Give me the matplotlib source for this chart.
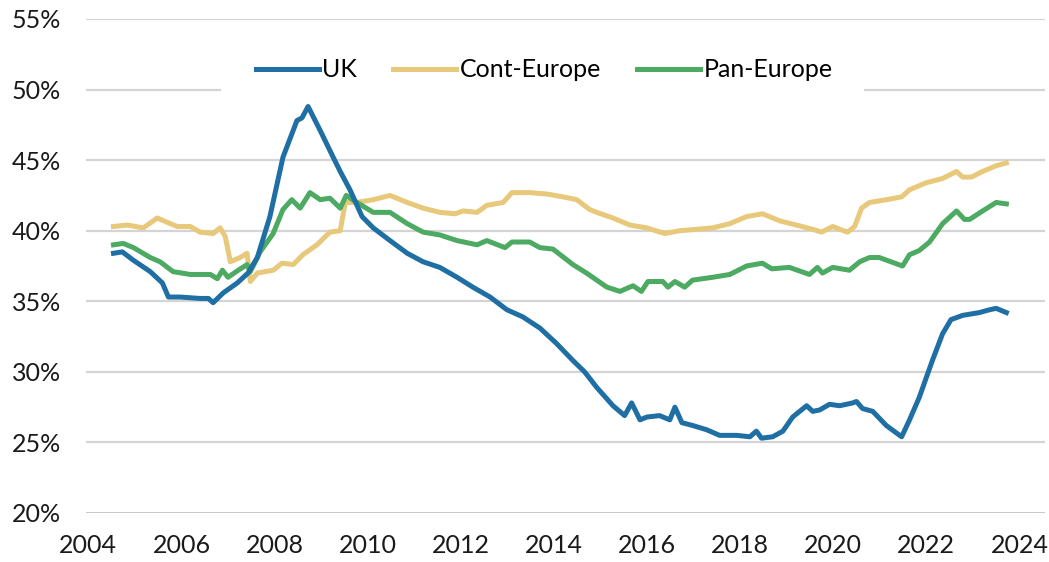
import matplotlib
matplotlib.use("Agg")
import matplotlib.pyplot as plt
from matplotlib.ticker import FuncFormatter

# ---- data (year, % share) ----
uk_year = [2004.54, 2004.73, 2004.97, 2005.33, 2005.59, 2005.72, 2005.97, 2006.40, 2006.58, 2006.68,
           2006.90, 2007.20, 2007.43, 2007.63, 2007.90, 2008.18, 2008.48, 2008.59, 2008.72, 2008.98,
           2009.26, 2009.41, 2009.62, 2009.88, 2010.12, 2010.48, 2010.85, 2011.19, 2011.55, 2011.92,
           2012.26, 2012.63, 2012.99, 2013.33, 2013.70, 2014.06, 2014.41, 2014.66, 2014.92, 2015.27,
           2015.52, 2015.67, 2015.85, 2016.00, 2016.27, 2016.49, 2016.60, 2016.75, 2016.98, 2017.28,
           2017.56, 2017.93, 2018.21, 2018.35, 2018.46, 2018.70, 2018.92, 2019.13, 2019.43, 2019.56,
           2019.71, 2019.92, 2020.14, 2020.42, 2020.50, 2020.63, 2020.85, 2021.14, 2021.47, 2021.64,
           2021.85, 2022.13, 2022.35, 2022.53, 2022.78, 2023.14, 2023.36, 2023.50, 2023.72]
uk_val = [38.4, 38.5, 37.9, 37.1, 36.3, 35.3, 35.3, 35.2, 35.2, 34.9,
          35.6, 36.3, 37.0, 38.1, 41.0, 45.2, 47.8, 48.0, 48.8, 47.1,
          45.2, 44.2, 42.9, 41.0, 40.2, 39.3, 38.4, 37.8, 37.4, 36.7,
          36.0, 35.3, 34.4, 33.9, 33.1, 32.0, 30.8, 30.0, 28.9, 27.6,
          26.9, 27.8, 26.6, 26.8, 26.9, 26.6, 27.5, 26.4, 26.2, 25.9,
          25.5, 25.5, 25.4, 25.8, 25.3, 25.4, 25.8, 26.8, 27.6, 27.2,
          27.3, 27.7, 27.6, 27.8, 27.9, 27.4, 27.2, 26.2, 25.4, 26.6,
          28.2, 30.8, 32.7, 33.7, 34.0, 34.2, 34.4, 34.5, 34.2]

cont_year = [2004.54, 2004.84, 2005.18, 2005.48, 2005.69, 2005.91, 2006.19, 2006.40, 2006.68, 2006.83,
             2006.94, 2007.05, 2007.26, 2007.41, 2007.48, 2007.63, 2007.97, 2008.16, 2008.40, 2008.61,
             2008.91, 2009.19, 2009.41, 2009.52, 2009.77, 2010.12, 2010.48, 2010.85, 2011.19, 2011.55,
             2011.88, 2012.05, 2012.35, 2012.56, 2012.91, 2013.10, 2013.48, 2013.85, 2014.19, 2014.49,
             2014.77, 2014.92, 2015.27, 2015.63, 2016.00, 2016.38, 2016.70, 2017.07, 2017.41, 2017.78,
             2018.14, 2018.48, 2018.85, 2019.21, 2019.56, 2019.75, 2019.99, 2020.14, 2020.31, 2020.46,
             2020.61, 2020.78, 2021.15, 2021.47, 2021.64, 2022.00, 2022.35, 2022.65, 2022.78, 2022.97,
             2023.21, 2023.50, 2023.72]
cont_val = [40.3, 40.4, 40.2, 40.9, 40.6, 40.3, 40.3, 39.9, 39.8, 40.2,
            39.6, 37.8, 38.1, 38.4, 36.4, 37.0, 37.2, 37.7, 37.6, 38.3,
            39.0, 39.9, 40.0, 42.0, 42.0, 42.2, 42.5, 42.0, 41.6, 41.3,
            41.2, 41.4, 41.3, 41.8, 42.0, 42.7, 42.7, 42.6, 42.4, 42.2,
            41.5, 41.3, 40.9, 40.4, 40.2, 39.8, 40.0, 40.1, 40.2, 40.5,
            41.0, 41.2, 40.7, 40.4, 40.1, 39.9, 40.3, 40.1, 39.9, 40.3,
            41.6, 42.0, 42.2, 42.4, 42.9, 43.4, 43.7, 44.2, 43.8, 43.8,
            44.2, 44.6, 44.8]

pan_year = [2004.54, 2004.75, 2004.97, 2005.33, 2005.54, 2005.82, 2006.19, 2006.40, 2006.62, 2006.77,
            2006.88, 2007.00, 2007.22, 2007.41, 2007.48, 2007.69, 2007.97, 2008.18, 2008.37, 2008.55,
            2008.76, 2008.98, 2009.19, 2009.41, 2009.54, 2009.77, 2010.12, 2010.48, 2010.85, 2011.19,
            2011.55, 2011.92, 2012.35, 2012.56, 2012.95, 2013.10, 2013.48, 2013.70, 2013.98, 2014.41,
            2014.70, 2014.92, 2015.14, 2015.42, 2015.70, 2015.88, 2016.02, 2016.34, 2016.45, 2016.60,
            2016.81, 2016.98, 2017.41, 2017.78, 2018.14, 2018.48, 2018.68, 2019.06, 2019.49, 2019.66,
            2019.77, 2019.99, 2020.35, 2020.57, 2020.78, 2020.99, 2021.49, 2021.64, 2021.85, 2022.07,
            2022.35, 2022.65, 2022.82, 2022.93, 2023.21, 2023.50, 2023.72]
pan_val = [39.0, 39.1, 38.8, 38.1, 37.8, 37.1, 36.9, 36.9, 36.9, 36.6,
           37.2, 36.7, 37.2, 37.6, 37.1, 38.5, 39.8, 41.5, 42.2, 41.6,
           42.7, 42.2, 42.3, 41.6, 42.5, 42.0, 41.3, 41.3, 40.5, 39.9,
           39.7, 39.3, 39.0, 39.3, 38.8, 39.2, 39.2, 38.8, 38.7, 37.6,
           37.0, 36.5, 36.0, 35.7, 36.1, 35.7, 36.4, 36.4, 36.0, 36.4,
           36.0, 36.5, 36.7, 36.9, 37.5, 37.7, 37.3, 37.4, 36.9, 37.4,
           37.0, 37.4, 37.2, 37.8, 38.1, 38.1, 37.5, 38.3, 38.6, 39.2,
           40.5, 41.4, 40.8, 40.8, 41.4, 42.0, 41.9]

years = [2004, 2006, 2008, 2010, 2012, 2014, 2016, 2018, 2020, 2022, 2024]
pct_ticks = [20, 25, 30, 35, 40, 45, 50, 55]

plt.rcParams["font.family"] = ["Lato", "DejaVu Sans"]

fig = plt.figure(figsize=(10.49, 5.62), dpi=100)
ax = fig.add_axes([0.0820, 0.0872, 0.9142, 0.879])

# gridlines; the 50% one is broken where the legend sits
for y in pct_ticks[1:]:
    if y == 50:
        ax.axhline(y, xmax=0.140, color="#d4d4d4", lw=1.6, zorder=1)
        ax.axhline(y, xmin=0.812, color="#d4d4d4", lw=1.6, zorder=1)
    else:
        ax.axhline(y, color="#d4d4d4", lw=1.6, zorder=1)
ax.axhline(20, color="#b8b8b8", lw=1.8, zorder=1)

ax.plot(uk_year, uk_val, color="#1f6fa5", lw=3.6, label="UK", zorder=4, solid_joinstyle="round")
ax.plot(cont_year, cont_val, color="#e8c87a", lw=3.6, label="Cont-Europe", zorder=2, solid_joinstyle="round")
ax.plot(pan_year, pan_val, color="#4caa62", lw=3.6, label="Pan-Europe", zorder=3, solid_joinstyle="round")

ax.set_xlim(2003.95, 2024.55)
ax.set_ylim(20, 55)
ax.set_xticks(years)
ax.set_yticks(pct_ticks)
ax.yaxis.set_major_formatter(FuncFormatter(lambda v, p: f"{v:.0f}%"))
ax.tick_params(length=0, labelsize=18, colors="#1a1a1a")
ax.tick_params(axis="y", pad=18)
ax.tick_params(axis="x", pad=15)
for s in ax.spines.values():
    s.set_visible(False)

leg = ax.legend(loc="center", bbox_to_anchor=(0.478, 0.897), ncol=3, frameon=False,
                fontsize=18, handlelength=2.5, columnspacing=1.45, handletextpad=0.15,
                borderpad=0.3)
leg.set_zorder(5)

fig.savefig("out.png", dpi=100)
